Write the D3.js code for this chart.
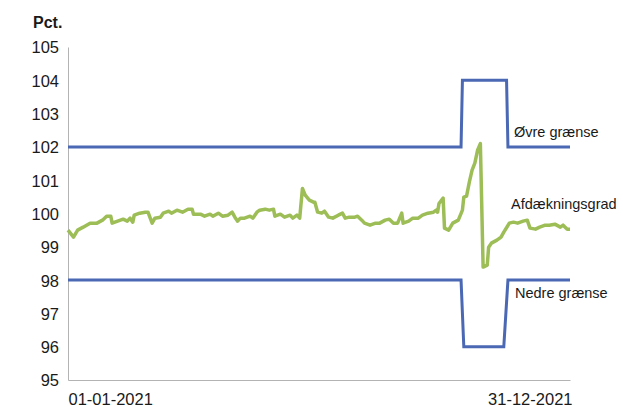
<!DOCTYPE html>
<html>
<head>
<meta charset="utf-8">
<script src="https://cdn.jsdelivr.net/npm/d3@7"></script>
<style>
  body { margin: 0; background: #fff; }
  text { font-family: "Liberation Sans", Arial, sans-serif; fill: #1a1a1a; }
  .axis path { stroke: #b3b3b3; }
</style>
</head>
<body>
<div id="chart"></div>
<script>
// Afdækningsgrad, daglig, 2021
let coverDates = ["2021-01-01","2021-01-05","2021-01-08","2021-01-12","2021-01-17","2021-01-22","2021-01-26","2021-01-29",
    "2021-02-01","2021-02-02","2021-02-06","2021-02-10","2021-02-13","2021-02-15","2021-02-17","2021-02-18","2021-02-22","2021-02-26","2021-02-28",
    "2021-03-03","2021-03-05","2021-03-09","2021-03-11","2021-03-15","2021-03-17","2021-03-21","2021-03-25","2021-03-29",
    "2021-04-01","2021-04-02","2021-04-07","2021-04-10","2021-04-14","2021-04-16","2021-04-20","2021-04-23","2021-04-27","2021-04-30",
    "2021-05-02","2021-05-04","2021-05-06","2021-05-09","2021-05-13","2021-05-15","2021-05-18","2021-05-20","2021-05-24","2021-05-27","2021-05-30","2021-05-31",
    "2021-06-04","2021-06-07","2021-06-11","2021-06-13","2021-06-16","2021-06-18","2021-06-20","2021-06-22","2021-06-25","2021-06-28","2021-06-29",
    "2021-07-01","2021-07-04","2021-07-06","2021-07-09","2021-07-12","2021-07-16","2021-07-19","2021-07-21","2021-07-24","2021-07-28","2021-07-30",
    "2021-08-02","2021-08-04","2021-08-08","2021-08-12","2021-08-15","2021-08-19","2021-08-22","2021-08-25","2021-08-28","2021-08-31",
    "2021-09-01","2021-09-05","2021-09-08","2021-09-12","2021-09-15","2021-09-19","2021-09-23","2021-09-25","2021-09-26","2021-09-27","2021-09-30",
    "2021-10-01","2021-10-04","2021-10-07","2021-10-11","2021-10-14","2021-10-15","2021-10-17","2021-10-19","2021-10-21","2021-10-23","2021-10-25","2021-10-27","2021-10-29",
    "2021-11-01","2021-11-02","2021-11-04","2021-11-08","2021-11-11","2021-11-13","2021-11-17","2021-11-20","2021-11-23","2021-11-27","2021-11-30",
    "2021-12-02","2021-12-06","2021-12-09","2021-12-13","2021-12-16","2021-12-20","2021-12-24","2021-12-26","2021-12-29","2021-12-31"];

let coverValues = [99.50,99.29,99.50,99.59,99.71,99.71,99.80,99.92,
    99.92,99.71,99.77,99.83,99.77,99.86,99.74,99.95,100.01,100.04,100.04,
    99.71,99.86,99.89,100.01,100.07,100.01,100.10,100.04,100.13,
    100.13,99.98,99.98,99.92,99.98,99.92,100.01,99.92,99.95,100.04,
    99.89,99.77,99.86,99.86,99.92,99.86,100.04,100.10,100.13,100.10,100.13,99.92,
    99.98,99.89,99.95,99.86,99.95,99.86,100.75,100.55,100.40,100.34,100.34,
    100.04,100.01,100.07,99.89,99.86,99.95,100.01,99.86,99.89,99.89,99.92,
    99.80,99.71,99.65,99.71,99.71,99.80,99.83,99.71,99.71,100.01,
    99.71,99.77,99.86,99.86,99.95,100.01,100.04,100.10,100.04,100.30,100.46,
    99.56,99.50,99.71,99.80,100.10,100.49,100.52,100.94,101.30,101.51,101.90,102.10,98.39,
    98.45,98.99,99.11,99.20,99.29,99.44,99.71,99.74,99.71,99.77,99.80,
    99.56,99.53,99.59,99.65,99.65,99.68,99.59,99.65,99.53,99.53];

// Øvre og nedre grænse
let upperDates = ["2021-01-01","2021-10-13","2021-10-14","2021-11-15","2021-11-16","2021-12-31"];
let upperValues = [102, 102, 104, 104, 102, 102];
let lowerDates = ["2021-01-01","2021-10-13","2021-10-15","2021-11-13","2021-11-16","2021-12-31"];
let lowerValues = [98, 98, 96, 96, 98, 98];

let yTicks = [95, 96, 97, 98, 99, 100, 101, 102, 103, 104, 105];
let xTickLabels = ["01-01-2021", "31-12-2021"];

let width = 623,
    height = 407,
    margin = {top: 47, right: 53, bottom: 27, left: 68};

let parse = d3.timeParse("%Y-%m-%d");

function zip(dates, values) {
    return dates.map(function(d, i) { return {date: parse(d), value: values[i]}; });
}

let cover = zip(coverDates, coverValues),
    upper = zip(upperDates, upperValues),
    lower = zip(lowerDates, lowerValues);

let x = d3.scaleTime()
    .domain([parse("2021-01-01"), parse("2021-12-31")])
    .range([margin.left, width - margin.right]);

let y = d3.scaleLinear()
    .domain([95, 105])
    .range([height - margin.bottom, margin.top]);

let line = d3.line()
    .x(function(d) { return x(d.date); })
    .y(function(d) { return y(d.value); });

let svg = d3.select("#chart").append("svg")
    .attr("width", width)
    .attr("height", height);

// Axes
let yAxis = d3.axisLeft(y)
    .tickValues(yTicks)
    .tickSize(0)
    .tickPadding(9);

svg.append("g")
    .attr("class", "axis")
    .attr("transform", "translate(" + margin.left + ",0)")
    .call(yAxis)
    .call(function(g) { g.selectAll("text").attr("font-size", 16.5).attr("dy", "0.36em"); });

let xAxis = d3.axisBottom(x)
    .tickValues([x.domain()[0], x.domain()[1]])
    .tickSize(0)
    .tickFormat(function(d, i) { return xTickLabels[i]; });

svg.append("g")
    .attr("class", "axis")
    .attr("transform", "translate(0," + (height - margin.bottom) + ")")
    .call(xAxis)
    .call(function(g) {
        g.selectAll("text")
            .attr("font-size", 16.5)
            .attr("y", 25)
            .attr("dy", 0)
            .attr("text-anchor", function(d, i) { return i === 0 ? "start" : "end"; })
            .attr("dx", function(d, i) { return i === 0 ? 0 : 2; });
    });

svg.selectAll(".axis .domain").attr("stroke", "#b3b3b3");

// Lines
svg.append("path")
    .datum(upper)
    .attr("fill", "none")
    .attr("stroke", "#4a68b4")
    .attr("stroke-width", 3)
    .attr("d", line);

svg.append("path")
    .datum(lower)
    .attr("fill", "none")
    .attr("stroke", "#4a68b4")
    .attr("stroke-width", 3)
    .attr("d", line);

svg.append("path")
    .datum(cover)
    .attr("fill", "none")
    .attr("stroke", "#9dbd56")
    .attr("stroke-width", 3.5)
    .attr("stroke-linejoin", "round")
    .attr("d", line);

// Labels
svg.append("text")
    .attr("x", 33)
    .attr("y", 28)
    .attr("font-size", 16)
    .attr("font-weight", "bold")
    .text("Pct.");

let seriesLabels = [
    {text: "Øvre grænse", x: 514, y: 137},
    {text: "Afdækningsgrad", x: 511, y: 209},
    {text: "Nedre grænse", x: 515, y: 298}
];

svg.selectAll(".series-label")
    .data(seriesLabels)
    .enter().append("text")
    .attr("class", "series-label")
    .attr("x", function(d) { return d.x; })
    .attr("y", function(d) { return d.y; })
    .attr("font-size", 14.5)
    .text(function(d) { return d.text; });
</script>
</body>
</html>
